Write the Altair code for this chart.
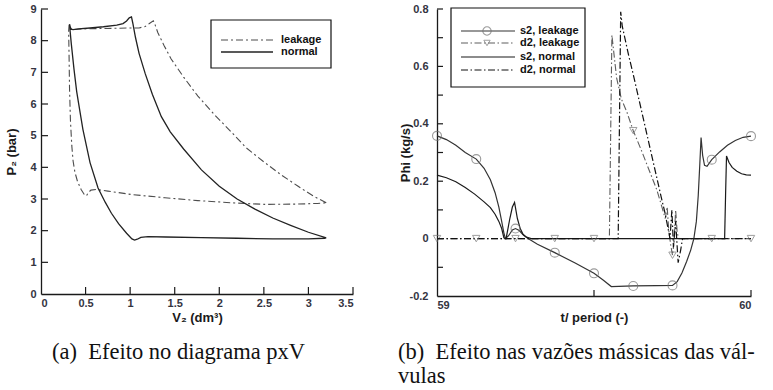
import altair as alt
import pandas as pd

# ---------------- panel (a): p x V diagram ----------------
V_normal = [3.20, 3.00, 2.80, 2.60, 2.40, 2.20, 2.00, 1.80, 1.60, 1.45,
            1.35, 1.25, 1.17, 1.10, 1.06, 1.03, 1.015, 0.99, 0.96, 0.92,
            0.85, 0.70, 0.55, 0.42, 0.36, 0.335, 0.32, 0.325, 0.34, 0.37,
            0.40, 0.42, 0.47, 0.55, 0.64, 0.72, 0.79, 0.87, 0.96, 1.02,
            1.05, 1.08, 1.12, 1.20, 1.40, 1.80, 2.20, 2.60, 3.00, 3.18, 3.20]
P_normal = [1.77, 1.95, 2.17, 2.40, 2.68, 3.00, 3.40, 3.92, 4.58, 5.12,
            5.60, 6.30, 6.95, 7.60, 8.10, 8.55, 8.75, 8.72, 8.62, 8.54,
            8.49, 8.44, 8.40, 8.37, 8.35, 8.36, 8.52, 8.35, 7.90, 7.10,
            6.40, 6.05, 5.20, 4.15, 3.35, 2.90, 2.55, 2.22, 1.92, 1.74,
            1.70, 1.73, 1.79, 1.81, 1.80, 1.78, 1.76, 1.74, 1.74, 1.76, 1.77]

V_leakage = [3.20, 3.05, 2.88, 2.70, 2.51, 2.30, 2.14, 1.95, 1.76, 1.60,
             1.46, 1.38, 1.31, 1.28, 1.26, 1.22, 1.17, 1.10, 1.00, 0.80,
             0.60, 0.45, 0.36, 0.33, 0.315, 0.31, 0.315, 0.32, 0.33, 0.345,
             0.36, 0.38, 0.41, 0.45, 0.49, 0.51, 0.53, 0.56, 0.62, 0.75,
             1.02, 1.39, 1.76, 2.14, 2.51, 2.88, 3.10, 3.20]
P_leakage = [2.88, 3.10, 3.41, 3.75, 4.15, 4.62, 5.10, 5.65, 6.25, 6.85,
             7.42, 7.85, 8.26, 8.50, 8.63, 8.55, 8.45, 8.40, 8.40, 8.39,
             8.38, 8.37, 8.35, 8.40, 8.50, 8.30, 7.50, 6.50, 5.50, 4.70,
             4.20, 3.85, 3.55, 3.30, 3.12, 3.10, 3.20, 3.28, 3.30, 3.25,
             3.14, 3.04, 2.95, 2.88, 2.83, 2.84, 2.86, 2.88]

legend_a = ["leakage", "normal"]
xticks_a = [0, 0.5, 1, 1.5, 2, 2.5, 3, 3.5]
yticks_a = [0, 1, 2, 3, 4, 5, 6, 7, 8, 9]

# ---------------- panel (b): valve mass flows ----------------
t_s2_leak = [59.000, 59.030, 59.060, 59.090, 59.125, 59.150, 59.170, 59.185, 59.197, 59.206,
             59.213, 59.218, 59.228, 59.240, 59.250, 59.262, 59.275, 59.290, 59.320, 59.375,
             59.440, 59.500, 59.530, 59.555, 59.625, 59.700, 59.750, 59.765, 59.780, 59.795,
             59.808, 59.818, 59.826, 59.832, 59.837, 59.841, 59.846, 59.852, 59.860, 59.875,
             59.900, 59.925, 59.950, 59.975, 60.000]
phi_s2_leak = [0.358, 0.345, 0.325, 0.300, 0.277, 0.245, 0.205, 0.160, 0.110, 0.060,
               0.020, 0.000, 0.010, 0.030, 0.035, 0.028, 0.012, 0.000, -0.020, -0.049,
               -0.085, -0.121, -0.145, -0.167, -0.165, -0.164, -0.163, -0.150, -0.120, -0.080,
               -0.040, 0.000, 0.060, 0.150, 0.260, 0.352, 0.290, 0.255, 0.252, 0.275,
               0.302, 0.325, 0.342, 0.353, 0.357]

t_s2_norm = [59.000, 59.030, 59.060, 59.090, 59.120, 59.150, 59.170, 59.185, 59.197, 59.206,
             59.213, 59.220, 59.232, 59.240, 59.247, 59.256, 59.265, 59.274, 59.285, 59.300,
             59.916, 59.919, 59.922, 59.930, 59.940, 59.955, 59.970, 59.985, 60.000]
phi_s2_norm = [0.221, 0.212, 0.198, 0.178, 0.155, 0.128, 0.108, 0.085, 0.060, 0.035,
               0.003, 0.000, 0.070, 0.110, 0.126, 0.070, 0.035, 0.015, 0.005, 0.000,
               0.000, 0.150, 0.288, 0.265, 0.248, 0.235, 0.226, 0.222, 0.221]

t_d2_leak = [59.000, 59.549, 59.557, 59.572, 59.587, 59.605, 59.625, 59.650, 59.675, 59.700,
             59.715, 59.727, 59.733, 59.738, 59.744, 59.750, 59.755, 59.760, 59.765, 59.770,
             60.000]
phi_d2_leak = [0.000, 0.000, 0.709, 0.560, 0.487, 0.440, 0.376, 0.310, 0.240, 0.170,
               0.115, 0.070, 0.110, 0.030, -0.020, -0.058, -0.010, 0.100, 0.020, 0.000,
               0.000]

t_d2_norm = [59.000, 59.577, 59.585, 59.590, 59.610, 59.625, 59.650, 59.675, 59.700, 59.715,
             59.726, 59.735, 59.742, 59.748, 59.753, 59.760, 59.768, 59.776, 59.782, 60.000]
phi_d2_norm = [0.000, 0.000, 0.790, 0.740, 0.640, 0.572, 0.452, 0.332, 0.212, 0.140,
               0.090, 0.040, 0.000, 0.100, -0.030, 0.060, -0.084, -0.040, 0.000, 0.000]

marker_t = [59.0, 59.125, 59.25, 59.375, 59.5, 59.625, 59.75, 59.875, 60.0]
marker_s2_leak = [0.358, 0.277, 0.035, -0.049, -0.121, -0.165, -0.163, 0.275, 0.357]
marker_d2_leak = [0.0, 0.0, 0.0, 0.0, 0.0, 0.376, -0.058, 0.0, 0.0]

legend_b = ["s2, leakage", "d2, leakage", "s2, normal", "d2, normal"]
xlabels_b = [59, 60]
xticks_b = [59.5, 60]
yticks_b = [-0.2, 0, 0.2, 0.4, 0.6, 0.8]
yminor_b = [-0.1, 0.1, 0.3, 0.5, 0.7]

caption_a = "(a)\u2002Efeito no diagrama pxV"
caption_b = ["(b)\u2002Efeito nas vazões mássicas das vál-", "vulas"]

# ---------------- styling ----------------
SANS = "Liberation Sans, Arial, Helvetica, sans-serif"
SERIF = "Liberation Serif, Times New Roman, Times, serif"
AXIS_C = "#1a1a1a"
W1, H1 = 312, 285
W2, H2 = 314, 287
one = pd.DataFrame({"k": [0]})


def legend_line(x0, x1, y, color, dash, width):
    kw = dict(color=color, strokeWidth=width)
    if dash:
        kw["strokeDash"] = dash
    return alt.Chart(one).mark_rule(**kw).encode(
        x=alt.value(x0), x2=alt.value(x1), y=alt.value(y))


def legend_text(x, y, label):
    return alt.Chart(one).mark_text(
        align="left", baseline="middle", font=SANS, fontSize=11,
        fontWeight="bold", color="#111111").encode(
        x=alt.value(x), y=alt.value(y), text=alt.value(label))


def legend_box(x0, x1, y0, y1):
    return alt.Chart(one).mark_rect(
        fill="white", stroke="#111111", strokeWidth=1.2).encode(
        x=alt.value(x0), x2=alt.value(x1), y=alt.value(y0), y2=alt.value(y1))


# ---------------- panel (a) ----------------
xa = alt.X("V:Q", scale=alt.Scale(domain=[0, 3.5], nice=False, zero=False),
           axis=alt.Axis(title="V₂ (dm³)", values=xticks_a, format="~g",
                         labelPadding=3, titlePadding=3))
ya = alt.Y("P:Q", scale=alt.Scale(domain=[0, 9], nice=False, zero=False),
           axis=alt.Axis(title="P₂ (bar)", values=yticks_a, format="d",
                         labelPadding=5, titlePadding=11))

df_norm = pd.DataFrame({"V": V_normal, "P": P_normal, "i": range(len(V_normal))})
df_leak = pd.DataFrame({"V": V_leakage, "P": P_leakage, "i": range(len(V_leakage))})

DASH_A = [7, 3, 2, 3]
LEAK_A = "#4d4d4d"
line_leak_a = alt.Chart(df_leak).mark_line(color=LEAK_A, strokeWidth=1.1, strokeDash=DASH_A).encode(
    x=xa, y=ya, order="i:Q")
line_norm_a = alt.Chart(df_norm).mark_line(color="#222222", strokeWidth=1.3).encode(
    x=xa, y=ya, order="i:Q")

ticks_xa = alt.Chart(pd.DataFrame({"V": xticks_a[1:]})).mark_rule(color=AXIS_C, strokeWidth=1.2).encode(
    x=xa, y=alt.value(H1), y2=alt.value(H1 - 7))
ticks_ya = alt.Chart(pd.DataFrame({"P": yticks_a[1:]})).mark_rule(color=AXIS_C, strokeWidth=1.2).encode(
    y=ya, x=alt.value(0), x2=alt.value(7))

leg_a = [legend_box(170, 290, 11, 59),
         legend_line(180, 232, 31, LEAK_A, DASH_A, 1.1),
         legend_text(240, 31, legend_a[0]),
         legend_line(180, 232, 43, "#222222", None, 1.3),
         legend_text(240, 43, legend_a[1])]

panel_a = alt.layer(line_leak_a, line_norm_a, ticks_xa, ticks_ya, *leg_a).properties(
    width=W1, height=H1,
    title=alt.TitleParams(text=caption_a, orient="bottom", anchor="start", frame="group",
                          align="left", dx=11, offset=17, font=SERIF, fontSize=22.5,
                          fontWeight="normal", color="#111111"))

# ---------------- panel (b) ----------------
xb = alt.X("t:Q", scale=alt.Scale(domain=[59, 60], nice=False, zero=False),
           axis=alt.Axis(title="t/ period (-)", values=xlabels_b, format="d",
                         labelPadding=3, titlePadding=1))
yb = alt.Y("phi:Q", scale=alt.Scale(domain=[-0.2, 0.8], nice=False, zero=False),
           axis=alt.Axis(title="Phi (kg/s)", values=yticks_b,
                         labelExpr="datum.value < 0 ? '-' + format(-datum.value, '~g') : format(datum.value, '~g')",
                         labelPadding=9, titlePadding=-3))

DASH_B = [7, 2.5, 1.5, 2.5]
styles_b = [
    (t_s2_leak, phi_s2_leak, "#333333", None, 1.2),
    (t_d2_leak, phi_d2_leak, "#5e5e5e", DASH_B, 1.1),
    (t_s2_norm, phi_s2_norm, "#1a1a1a", None, 1.2),
    (t_d2_norm, phi_d2_norm, "#111111", DASH_B, 1.2),
]
lines_b = []
for t, phi, col, dash, wid in styles_b:
    kw = dict(color=col, strokeWidth=wid)
    if dash:
        kw["strokeDash"] = dash
    lines_b.append(alt.Chart(pd.DataFrame({"t": t, "phi": phi, "i": range(len(t))}))
                   .mark_line(**kw).encode(x=xb, y=yb, order="i:Q"))

circ_b = alt.Chart(pd.DataFrame({"t": marker_t, "phi": marker_s2_leak})).mark_point(
    shape="circle", size=80, filled=False, color="#707070", strokeWidth=1.1).encode(x=xb, y=yb)
tri_b = alt.Chart(pd.DataFrame({"t": marker_t, "phi": marker_d2_leak})).mark_point(
    shape="triangle-down", size=55, filled=False, color="#777777", strokeWidth=1.0).encode(x=xb, y=yb)

ticks_xb = alt.Chart(pd.DataFrame({"t": xticks_b})).mark_rule(color=AXIS_C, strokeWidth=1.2).encode(
    x=xb, y=alt.value(H2), y2=alt.value(H2 - 6))
ticks_yb = alt.Chart(pd.DataFrame({"phi": yticks_b[1:] + yminor_b})).mark_rule(color=AXIS_C, strokeWidth=1.2).encode(
    y=yb, x=alt.value(0), x2=alt.value(6))

rows_b = [22, 34, 48, 61]
leg_b = [legend_box(14, 148, -1, 78)]
for k, (row, (t, phi, col, dash, wid)) in enumerate(zip(rows_b, styles_b)):
    leg_b.append(legend_line(24, 78, row, col, dash, wid))
    leg_b.append(legend_text(83, row, legend_b[k]))
leg_b.append(alt.Chart(one).mark_point(shape="circle", size=70, filled=False, color="#707070",
                                       strokeWidth=1.1).encode(x=alt.value(50), y=alt.value(rows_b[0])))
leg_b.append(alt.Chart(one).mark_point(shape="triangle-down", size=40, filled=False, color="#777777",
                                       strokeWidth=1.0).encode(x=alt.value(50), y=alt.value(rows_b[1])))

panel_b = alt.layer(*lines_b, circ_b, tri_b, ticks_xb, ticks_yb, *leg_b).properties(
    width=W2, height=H2,
    title=alt.TitleParams(text=caption_b, orient="bottom", anchor="start", frame="group",
                          align="left", dx=-39, offset=17, font=SERIF, fontSize=22.5,
                          fontWeight="normal", color="#111111", lineHeight=24))

chart = alt.hconcat(panel_a, panel_b, spacing=84, bounds="flush").properties(
    padding={"left": 5, "top": 3, "right": 5, "bottom": 5},
    background="white",
).configure_axis(
    labelFont=SANS, labelFontSize=11, labelFontWeight="bold", labelColor="#34343f",
    titleFont=SANS, titleFontSize=13, titleFontWeight="bold", titleColor="#1a1a1a",
    domainColor=AXIS_C, domainWidth=1.3, ticks=False, grid=False,
).configure_view(stroke=None)

chart.save("out.html", embed_options={"renderer": "svg", "actions": False})
